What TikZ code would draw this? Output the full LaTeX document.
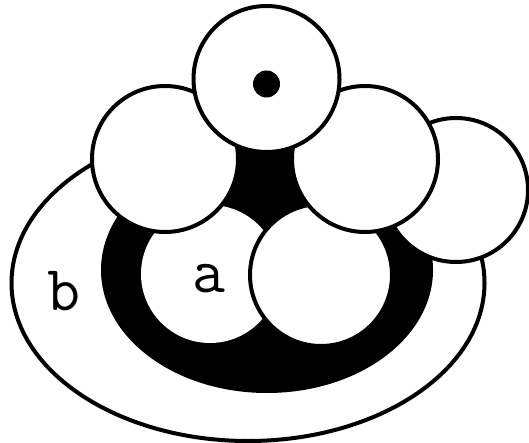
\documentclass[tikz,border=0pt]{standalone}
\usetikzlibrary{shapes.geometric}
\begin{document}
\begin{tikzpicture}[x=1pt,y=-1pt,
  blob/.style={circle,draw=black,fill=white,line width=4pt,inner sep=0pt,minimum size=#1},
  lbl/.style={font=\ttfamily\fontsize{64}{64}\selectfont,inner sep=0pt}]
\useasboundingbox (0,0) rectangle (529,443);
\node[ellipse,draw=black,fill=white,line width=4pt,inner sep=0pt,minimum width=473pt,minimum height=316pt] (plate) at (248,283) {};
\node[ellipse,fill=black,inner sep=0pt,minimum width=332pt,minimum height=246pt] (ring) at (267,270) {};
\node[circle,fill=white,inner sep=0pt,minimum size=138pt] (ca) at (210,274) {};
\node[blob=142pt] (cin) at (321,275) {};
\node[blob=144pt] (cfr) at (456,190) {};
\node[blob=146pt] (cr) at (365,159) {};
\node[blob=146pt] (cl) at (165,159) {};
\node[blob=146pt] (ct) at (266.5,79) {};
\node[circle,fill=black,inner sep=0pt,minimum size=27pt] (dot) at (266.5,84) {};
\node[lbl,anchor=base] (la) at (209,292) {a};
\node[lbl,anchor=base] (lb) at (64,310) {b};
\end{tikzpicture}
\end{document}
